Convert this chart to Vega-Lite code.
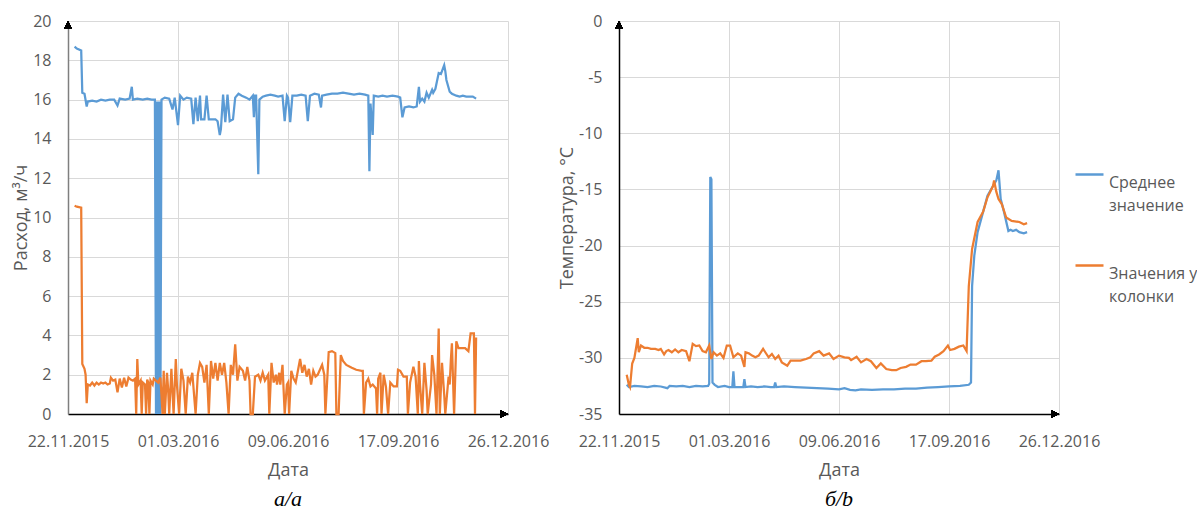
{
  "$schema": "https://vega.github.io/schema/vega-lite/v6.json",
  "padding": {"left": 12, "top": 13, "right": 0, "bottom": 0},
  "background": "white",
  "config": {
    "view": {"stroke": null},
    "font": "Open Sans",
    "concat": {"spacing": 9},
    "style": {"guide-label": {"lineHeight": 23}},
    "axis": {
      "labelFont": "Open Sans", "labelFontSize": 16, "labelColor": "#595959",
      "titleFont": "Open Sans", "titleFontSize": 18, "titleColor": "#595959", "titleFontWeight": "normal",
      "gridColor": "#d9d9d9", "gridWidth": 1, "ticks": false, "domainColor": "#000000", "domainWidth": 1.5, "labelOverlap": false
    }
  },
  "datasets": {
    "flow": [
      {"date": "2015-11-28", "series": "Среднее значение", "value": 18.7},
      {"date": "2015-11-30", "series": "Среднее значение", "value": 18.6},
      {"date": "2015-12-04", "series": "Среднее значение", "value": 18.5},
      {"date": "2015-12-05", "series": "Среднее значение", "value": 16.35},
      {"date": "2015-12-07", "series": "Среднее значение", "value": 16.3},
      {"date": "2015-12-09", "series": "Среднее значение", "value": 15.65},
      {"date": "2015-12-10", "series": "Среднее значение", "value": 15.9},
      {"date": "2015-12-14", "series": "Среднее значение", "value": 15.95},
      {"date": "2015-12-18", "series": "Среднее значение", "value": 15.9},
      {"date": "2015-12-22", "series": "Среднее значение", "value": 16.0},
      {"date": "2015-12-26", "series": "Среднее значение", "value": 15.95},
      {"date": "2015-12-30", "series": "Среднее значение", "value": 16.0},
      {"date": "2016-01-03", "series": "Среднее значение", "value": 16.0},
      {"date": "2016-01-06", "series": "Среднее значение", "value": 15.7},
      {"date": "2016-01-08", "series": "Среднее значение", "value": 16.05},
      {"date": "2016-01-13", "series": "Среднее значение", "value": 16.0},
      {"date": "2016-01-17", "series": "Среднее значение", "value": 16.05},
      {"date": "2016-01-19", "series": "Среднее значение", "value": 16.65},
      {"date": "2016-01-20", "series": "Среднее значение", "value": 16.0},
      {"date": "2016-01-24", "series": "Среднее значение", "value": 16.05},
      {"date": "2016-01-29", "series": "Среднее значение", "value": 16.0},
      {"date": "2016-02-02", "series": "Среднее значение", "value": 16.05},
      {"date": "2016-02-06", "series": "Среднее значение", "value": 16.0},
      {"date": "2016-02-09", "series": "Среднее значение", "value": 16.0},
      {"date": "2016-02-10", "series": "Среднее значение", "value": 0},
      {"date": "2016-02-11", "series": "Среднее значение", "value": 15.9},
      {"date": "2016-02-12", "series": "Среднее значение", "value": 0},
      {"date": "2016-02-13", "series": "Среднее значение", "value": 15.9},
      {"date": "2016-02-14", "series": "Среднее значение", "value": 0},
      {"date": "2016-02-15", "series": "Среднее значение", "value": 16.0},
      {"date": "2016-02-18", "series": "Среднее значение", "value": 16.1},
      {"date": "2016-02-22", "series": "Среднее значение", "value": 16.05},
      {"date": "2016-02-25", "series": "Среднее значение", "value": 15.5},
      {"date": "2016-02-27", "series": "Среднее значение", "value": 16.1},
      {"date": "2016-03-01", "series": "Среднее значение", "value": 14.7},
      {"date": "2016-03-03", "series": "Среднее значение", "value": 16.2},
      {"date": "2016-03-06", "series": "Среднее значение", "value": 16.0},
      {"date": "2016-03-09", "series": "Среднее значение", "value": 16.1},
      {"date": "2016-03-13", "series": "Среднее значение", "value": 16.05},
      {"date": "2016-03-15", "series": "Среднее значение", "value": 14.75},
      {"date": "2016-03-17", "series": "Среднее значение", "value": 16.1},
      {"date": "2016-03-19", "series": "Среднее значение", "value": 14.9},
      {"date": "2016-03-21", "series": "Среднее значение", "value": 16.2},
      {"date": "2016-03-22", "series": "Среднее значение", "value": 15.0},
      {"date": "2016-03-25", "series": "Среднее значение", "value": 15.0},
      {"date": "2016-03-27", "series": "Среднее значение", "value": 16.2},
      {"date": "2016-03-29", "series": "Среднее значение", "value": 15.0},
      {"date": "2016-04-01", "series": "Среднее значение", "value": 15.0},
      {"date": "2016-04-04", "series": "Среднее значение", "value": 15.0},
      {"date": "2016-04-06", "series": "Среднее значение", "value": 14.9},
      {"date": "2016-04-08", "series": "Среднее значение", "value": 14.2},
      {"date": "2016-04-09", "series": "Среднее значение", "value": 14.5},
      {"date": "2016-04-11", "series": "Среднее значение", "value": 16.25},
      {"date": "2016-04-13", "series": "Среднее значение", "value": 14.85},
      {"date": "2016-04-15", "series": "Среднее значение", "value": 16.25},
      {"date": "2016-04-17", "series": "Среднее значение", "value": 14.9},
      {"date": "2016-04-20", "series": "Среднее значение", "value": 15.0},
      {"date": "2016-04-22", "series": "Среднее значение", "value": 16.1},
      {"date": "2016-04-25", "series": "Среднее значение", "value": 16.3},
      {"date": "2016-04-28", "series": "Среднее значение", "value": 16.2},
      {"date": "2016-05-02", "series": "Среднее значение", "value": 16.1},
      {"date": "2016-05-05", "series": "Среднее значение", "value": 16.0},
      {"date": "2016-05-08", "series": "Среднее значение", "value": 16.2},
      {"date": "2016-05-09", "series": "Среднее значение", "value": 15.1},
      {"date": "2016-05-10", "series": "Среднее значение", "value": 16.2},
      {"date": "2016-05-11", "series": "Среднее значение", "value": 16.2},
      {"date": "2016-05-13", "series": "Среднее значение", "value": 12.2},
      {"date": "2016-05-14", "series": "Среднее значение", "value": 16.0},
      {"date": "2016-05-17", "series": "Среднее значение", "value": 16.15},
      {"date": "2016-05-20", "series": "Среднее значение", "value": 16.2},
      {"date": "2016-05-24", "series": "Среднее значение", "value": 16.25},
      {"date": "2016-05-28", "series": "Среднее значение", "value": 16.2},
      {"date": "2016-05-31", "series": "Среднее значение", "value": 16.15},
      {"date": "2016-06-04", "series": "Среднее значение", "value": 16.2},
      {"date": "2016-06-06", "series": "Среднее значение", "value": 14.9},
      {"date": "2016-06-08", "series": "Среднее значение", "value": 16.2},
      {"date": "2016-06-09", "series": "Среднее значение", "value": 16.1},
      {"date": "2016-06-11", "series": "Среднее значение", "value": 14.85},
      {"date": "2016-06-13", "series": "Среднее значение", "value": 16.2},
      {"date": "2016-06-17", "series": "Среднее значение", "value": 16.2},
      {"date": "2016-06-21", "series": "Среднее значение", "value": 16.25},
      {"date": "2016-06-25", "series": "Среднее значение", "value": 16.2},
      {"date": "2016-06-27", "series": "Среднее значение", "value": 14.9},
      {"date": "2016-06-29", "series": "Среднее значение", "value": 16.2},
      {"date": "2016-07-03", "series": "Среднее значение", "value": 16.3},
      {"date": "2016-07-07", "series": "Среднее значение", "value": 16.25},
      {"date": "2016-07-09", "series": "Среднее значение", "value": 15.6},
      {"date": "2016-07-10", "series": "Среднее значение", "value": 16.2},
      {"date": "2016-07-14", "series": "Среднее значение", "value": 16.25},
      {"date": "2016-07-19", "series": "Среднее значение", "value": 16.3},
      {"date": "2016-07-24", "series": "Среднее значение", "value": 16.3},
      {"date": "2016-07-29", "series": "Среднее значение", "value": 16.35},
      {"date": "2016-08-03", "series": "Среднее значение", "value": 16.3},
      {"date": "2016-08-08", "series": "Среднее значение", "value": 16.25},
      {"date": "2016-08-13", "series": "Среднее значение", "value": 16.3},
      {"date": "2016-08-18", "series": "Среднее значение", "value": 16.25},
      {"date": "2016-08-21", "series": "Среднее значение", "value": 16.2},
      {"date": "2016-08-22", "series": "Среднее значение", "value": 12.35},
      {"date": "2016-08-23", "series": "Среднее значение", "value": 15.8},
      {"date": "2016-08-25", "series": "Среднее значение", "value": 14.2},
      {"date": "2016-08-26", "series": "Среднее значение", "value": 16.2},
      {"date": "2016-08-30", "series": "Среднее значение", "value": 16.15},
      {"date": "2016-09-03", "series": "Среднее значение", "value": 16.2},
      {"date": "2016-09-07", "series": "Среднее значение", "value": 16.15},
      {"date": "2016-09-12", "series": "Среднее значение", "value": 16.2},
      {"date": "2016-09-17", "series": "Среднее значение", "value": 16.15},
      {"date": "2016-09-19", "series": "Среднее значение", "value": 16.1},
      {"date": "2016-09-21", "series": "Среднее значение", "value": 15.1},
      {"date": "2016-09-23", "series": "Среднее значение", "value": 15.6},
      {"date": "2016-09-27", "series": "Среднее значение", "value": 15.65},
      {"date": "2016-10-01", "series": "Среднее значение", "value": 15.6},
      {"date": "2016-10-04", "series": "Среднее значение", "value": 15.65},
      {"date": "2016-10-06", "series": "Среднее значение", "value": 16.65},
      {"date": "2016-10-07", "series": "Среднее значение", "value": 15.9},
      {"date": "2016-10-09", "series": "Среднее значение", "value": 16.05},
      {"date": "2016-10-11", "series": "Среднее значение", "value": 15.9},
      {"date": "2016-10-13", "series": "Среднее значение", "value": 16.35},
      {"date": "2016-10-15", "series": "Среднее значение", "value": 16.1},
      {"date": "2016-10-18", "series": "Среднее значение", "value": 16.5},
      {"date": "2016-10-19", "series": "Среднее значение", "value": 16.35},
      {"date": "2016-10-21", "series": "Среднее значение", "value": 16.55},
      {"date": "2016-10-24", "series": "Среднее значение", "value": 17.35},
      {"date": "2016-10-26", "series": "Среднее значение", "value": 17.3},
      {"date": "2016-10-28", "series": "Среднее значение", "value": 17.6},
      {"date": "2016-10-29", "series": "Среднее значение", "value": 17.75},
      {"date": "2016-10-30", "series": "Среднее значение", "value": 17.45},
      {"date": "2016-10-31", "series": "Среднее значение", "value": 17.0},
      {"date": "2016-11-03", "series": "Среднее значение", "value": 16.4},
      {"date": "2016-11-05", "series": "Среднее значение", "value": 16.3},
      {"date": "2016-11-09", "series": "Среднее значение", "value": 16.2},
      {"date": "2016-11-12", "series": "Среднее значение", "value": 16.15},
      {"date": "2016-11-15", "series": "Среднее значение", "value": 16.2},
      {"date": "2016-11-18", "series": "Среднее значение", "value": 16.15},
      {"date": "2016-11-21", "series": "Среднее значение", "value": 16.15},
      {"date": "2016-11-24", "series": "Среднее значение", "value": 16.15},
      {"date": "2016-11-27", "series": "Среднее значение", "value": 16.05},
      {"date": "2015-11-28", "series": "Значения у колонки", "value": 10.6},
      {"date": "2015-11-30", "series": "Значения у колонки", "value": 10.55},
      {"date": "2015-12-04", "series": "Значения у колонки", "value": 10.5},
      {"date": "2015-12-05", "series": "Значения у колонки", "value": 2.55},
      {"date": "2015-12-07", "series": "Значения у колонки", "value": 2.3},
      {"date": "2015-12-08", "series": "Значения у колонки", "value": 2.0},
      {"date": "2015-12-09", "series": "Значения у колонки", "value": 0.55},
      {"date": "2015-12-10", "series": "Значения у колонки", "value": 1.5},
      {"date": "2015-12-12", "series": "Значения у колонки", "value": 1.45},
      {"date": "2015-12-14", "series": "Значения у колонки", "value": 1.6},
      {"date": "2015-12-16", "series": "Значения у колонки", "value": 1.45},
      {"date": "2015-12-18", "series": "Значения у колонки", "value": 1.6},
      {"date": "2015-12-20", "series": "Значения у колонки", "value": 1.5},
      {"date": "2015-12-22", "series": "Значения у колонки", "value": 1.6},
      {"date": "2015-12-24", "series": "Значения у колонки", "value": 1.55},
      {"date": "2015-12-26", "series": "Значения у колонки", "value": 1.6},
      {"date": "2015-12-28", "series": "Значения у колонки", "value": 1.5},
      {"date": "2015-12-30", "series": "Значения у колонки", "value": 1.55},
      {"date": "2015-12-31", "series": "Значения у колонки", "value": 1.85},
      {"date": "2016-01-02", "series": "Значения у колонки", "value": 1.7},
      {"date": "2016-01-04", "series": "Значения у колонки", "value": 1.75},
      {"date": "2016-01-06", "series": "Значения у колонки", "value": 1.1},
      {"date": "2016-01-08", "series": "Значения у колонки", "value": 1.8},
      {"date": "2016-01-10", "series": "Значения у колонки", "value": 1.35},
      {"date": "2016-01-12", "series": "Значения у колонки", "value": 1.85},
      {"date": "2016-01-14", "series": "Значения у колонки", "value": 1.4},
      {"date": "2016-01-16", "series": "Значения у колонки", "value": 1.85},
      {"date": "2016-01-18", "series": "Значения у колонки", "value": 1.75},
      {"date": "2016-01-20", "series": "Значения у колонки", "value": 1.7},
      {"date": "2016-01-22", "series": "Значения у колонки", "value": 1.8},
      {"date": "2016-01-23", "series": "Значения у колонки", "value": 0},
      {"date": "2016-01-24", "series": "Значения у колонки", "value": 2.8},
      {"date": "2016-01-25", "series": "Значения у колонки", "value": 1.5},
      {"date": "2016-01-27", "series": "Значения у колонки", "value": 1.7},
      {"date": "2016-01-28", "series": "Значения у колонки", "value": 0},
      {"date": "2016-01-29", "series": "Значения у колонки", "value": 1.6},
      {"date": "2016-01-31", "series": "Значения у колонки", "value": 1.5},
      {"date": "2016-02-01", "series": "Значения у колонки", "value": 0},
      {"date": "2016-02-02", "series": "Значения у колонки", "value": 1.75},
      {"date": "2016-02-03", "series": "Значения у колонки", "value": 1.6},
      {"date": "2016-02-04", "series": "Значения у колонки", "value": 0},
      {"date": "2016-02-05", "series": "Значения у колонки", "value": 1.7},
      {"date": "2016-02-07", "series": "Значения у колонки", "value": 1.5},
      {"date": "2016-02-08", "series": "Значения у колонки", "value": 1.8},
      {"date": "2016-02-10", "series": "Значения у колонки", "value": 1.7},
      {"date": "2016-02-12", "series": "Значения у колонки", "value": 1.6},
      {"date": "2016-02-14", "series": "Значения у колонки", "value": 1.85},
      {"date": "2016-02-16", "series": "Значения у колонки", "value": 0},
      {"date": "2016-02-17", "series": "Значения у колонки", "value": 2.2},
      {"date": "2016-02-18", "series": "Значения у колонки", "value": 0},
      {"date": "2016-02-20", "series": "Значения у колонки", "value": 2.1},
      {"date": "2016-02-21", "series": "Значения у колонки", "value": 1.3},
      {"date": "2016-02-22", "series": "Значения у колонки", "value": 0},
      {"date": "2016-02-24", "series": "Значения у колонки", "value": 2.3},
      {"date": "2016-02-26", "series": "Значения у колонки", "value": 0},
      {"date": "2016-02-28", "series": "Значения у колонки", "value": 2.8},
      {"date": "2016-02-29", "series": "Значения у колонки", "value": 1.5},
      {"date": "2016-03-02", "series": "Значения у колонки", "value": 0},
      {"date": "2016-03-04", "series": "Значения у колонки", "value": 2.3},
      {"date": "2016-03-06", "series": "Значения у колонки", "value": 1.7},
      {"date": "2016-03-08", "series": "Значения у колонки", "value": 0},
      {"date": "2016-03-10", "series": "Значения у колонки", "value": 1.9},
      {"date": "2016-03-12", "series": "Значения у колонки", "value": 1.6},
      {"date": "2016-03-14", "series": "Значения у колонки", "value": 2.1},
      {"date": "2016-03-17", "series": "Значения у колонки", "value": 0},
      {"date": "2016-03-19", "series": "Значения у колонки", "value": 2.0},
      {"date": "2016-03-21", "series": "Значения у колонки", "value": 2.6},
      {"date": "2016-03-23", "series": "Значения у колонки", "value": 2.4},
      {"date": "2016-03-25", "series": "Значения у колонки", "value": 1.6},
      {"date": "2016-03-27", "series": "Значения у колонки", "value": 2.5},
      {"date": "2016-03-29", "series": "Значения у колонки", "value": 0},
      {"date": "2016-03-31", "series": "Значения у колонки", "value": 2.7},
      {"date": "2016-04-02", "series": "Значения у колонки", "value": 1.8},
      {"date": "2016-04-04", "series": "Значения у колонки", "value": 2.6},
      {"date": "2016-04-06", "series": "Значения у колонки", "value": 1.7},
      {"date": "2016-04-08", "series": "Значения у колонки", "value": 2.6},
      {"date": "2016-04-10", "series": "Значения у колонки", "value": 2.0},
      {"date": "2016-04-12", "series": "Значения у колонки", "value": 2.6},
      {"date": "2016-04-14", "series": "Значения у колонки", "value": 1.6},
      {"date": "2016-04-16", "series": "Значения у колонки", "value": 0},
      {"date": "2016-04-18", "series": "Значения у колонки", "value": 2.5},
      {"date": "2016-04-20", "series": "Значения у колонки", "value": 2.0},
      {"date": "2016-04-22", "series": "Значения у колонки", "value": 3.55},
      {"date": "2016-04-24", "series": "Значения у колонки", "value": 1.7},
      {"date": "2016-04-26", "series": "Значения у колонки", "value": 2.4},
      {"date": "2016-04-29", "series": "Значения у колонки", "value": 2.2},
      {"date": "2016-05-01", "series": "Значения у колонки", "value": 1.7},
      {"date": "2016-05-03", "series": "Значения у колонки", "value": 2.4},
      {"date": "2016-05-05", "series": "Значения у колонки", "value": 1.7},
      {"date": "2016-05-06", "series": "Значения у колонки", "value": 0},
      {"date": "2016-05-08", "series": "Значения у колонки", "value": 0},
      {"date": "2016-05-10", "series": "Значения у колонки", "value": 1.9},
      {"date": "2016-05-13", "series": "Значения у колонки", "value": 2.0},
      {"date": "2016-05-15", "series": "Значения у колонки", "value": 1.7},
      {"date": "2016-05-17", "series": "Значения у колонки", "value": 2.1},
      {"date": "2016-05-19", "series": "Значения у колонки", "value": 1.7},
      {"date": "2016-05-22", "series": "Значения у колонки", "value": 2.0},
      {"date": "2016-05-23", "series": "Значения у колонки", "value": 0},
      {"date": "2016-05-25", "series": "Значения у колонки", "value": 2.6},
      {"date": "2016-05-27", "series": "Значения у колонки", "value": 1.6},
      {"date": "2016-05-29", "series": "Значения у колонки", "value": 2.0},
      {"date": "2016-05-30", "series": "Значения у колонки", "value": 1.5},
      {"date": "2016-06-01", "series": "Значения у колонки", "value": 2.1},
      {"date": "2016-06-02", "series": "Значения у колонки", "value": 1.5},
      {"date": "2016-06-04", "series": "Значения у колонки", "value": 2.5},
      {"date": "2016-06-06", "series": "Значения у колонки", "value": 0},
      {"date": "2016-06-08", "series": "Значения у колонки", "value": 1.5},
      {"date": "2016-06-09", "series": "Значения у колонки", "value": 1.6},
      {"date": "2016-06-10", "series": "Значения у колонки", "value": 0},
      {"date": "2016-06-12", "series": "Значения у колонки", "value": 2.2},
      {"date": "2016-06-14", "series": "Значения у колонки", "value": 1.8},
      {"date": "2016-06-16", "series": "Значения у колонки", "value": 1.6},
      {"date": "2016-06-20", "series": "Значения у колонки", "value": 2.8},
      {"date": "2016-06-22", "series": "Значения у колонки", "value": 2.1},
      {"date": "2016-06-24", "series": "Значения у колонки", "value": 2.5},
      {"date": "2016-06-26", "series": "Значения у колонки", "value": 1.9},
      {"date": "2016-06-28", "series": "Значения у колонки", "value": 2.3},
      {"date": "2016-06-30", "series": "Значения у колонки", "value": 1.5},
      {"date": "2016-07-02", "series": "Значения у колонки", "value": 2.2},
      {"date": "2016-07-04", "series": "Значения у колонки", "value": 1.9},
      {"date": "2016-07-06", "series": "Значения у колонки", "value": 2.0},
      {"date": "2016-07-10", "series": "Значения у колонки", "value": 2.5},
      {"date": "2016-07-12", "series": "Значения у колонки", "value": 2.0},
      {"date": "2016-07-13", "series": "Значения у колонки", "value": 0},
      {"date": "2016-07-16", "series": "Значения у колонки", "value": 3.15},
      {"date": "2016-07-19", "series": "Значения у колонки", "value": 3.2},
      {"date": "2016-07-22", "series": "Значения у колонки", "value": 3.1},
      {"date": "2016-07-23", "series": "Значения у колонки", "value": 0},
      {"date": "2016-07-25", "series": "Значения у колонки", "value": 0},
      {"date": "2016-07-27", "series": "Значения у колонки", "value": 3.0},
      {"date": "2016-07-29", "series": "Значения у колонки", "value": 2.7},
      {"date": "2016-08-01", "series": "Значения у колонки", "value": 2.5},
      {"date": "2016-08-06", "series": "Значения у колонки", "value": 2.35},
      {"date": "2016-08-10", "series": "Значения у колонки", "value": 2.25},
      {"date": "2016-08-15", "series": "Значения у колонки", "value": 2.2},
      {"date": "2016-08-16", "series": "Значения у колонки", "value": 2.2},
      {"date": "2016-08-17", "series": "Значения у колонки", "value": 0},
      {"date": "2016-08-19", "series": "Значения у колонки", "value": 1.6},
      {"date": "2016-08-21", "series": "Значения у колонки", "value": 1.8},
      {"date": "2016-08-23", "series": "Значения у колонки", "value": 1.4},
      {"date": "2016-08-25", "series": "Значения у колонки", "value": 1.5},
      {"date": "2016-08-28", "series": "Значения у колонки", "value": 1.3},
      {"date": "2016-08-29", "series": "Значения у колонки", "value": 0},
      {"date": "2016-08-30", "series": "Значения у колонки", "value": 1.8},
      {"date": "2016-09-01", "series": "Значения у колонки", "value": 2.1},
      {"date": "2016-09-02", "series": "Значения у колонки", "value": 0},
      {"date": "2016-09-04", "series": "Значения у колонки", "value": 2.0},
      {"date": "2016-09-06", "series": "Значения у колонки", "value": 1.4},
      {"date": "2016-09-08", "series": "Значения у колонки", "value": 0},
      {"date": "2016-09-10", "series": "Значения у колонки", "value": 1.6},
      {"date": "2016-09-13", "series": "Значения у колонки", "value": 1.4},
      {"date": "2016-09-16", "series": "Значения у колонки", "value": 1.4},
      {"date": "2016-09-17", "series": "Значения у колонки", "value": 2.25},
      {"date": "2016-09-19", "series": "Значения у колонки", "value": 2.2},
      {"date": "2016-09-22", "series": "Значения у колонки", "value": 1.9},
      {"date": "2016-09-25", "series": "Значения у колонки", "value": 1.9},
      {"date": "2016-09-26", "series": "Значения у колонки", "value": 0},
      {"date": "2016-09-28", "series": "Значения у колонки", "value": 1.6},
      {"date": "2016-10-01", "series": "Значения у колонки", "value": 2.4},
      {"date": "2016-10-03", "series": "Значения у колонки", "value": 1.9},
      {"date": "2016-10-05", "series": "Значения у колонки", "value": 0},
      {"date": "2016-10-06", "series": "Значения у колонки", "value": 2.7},
      {"date": "2016-10-07", "series": "Значения у колонки", "value": 1.5},
      {"date": "2016-10-09", "series": "Значения у колонки", "value": 0},
      {"date": "2016-10-11", "series": "Значения у колонки", "value": 2.6},
      {"date": "2016-10-13", "series": "Значения у колонки", "value": 1.2},
      {"date": "2016-10-14", "series": "Значения у колонки", "value": 0},
      {"date": "2016-10-17", "series": "Значения у колонки", "value": 1.5},
      {"date": "2016-10-18", "series": "Значения у колонки", "value": 3.0},
      {"date": "2016-10-20", "series": "Значения у колонки", "value": 2.0},
      {"date": "2016-10-22", "series": "Значения у колонки", "value": 0},
      {"date": "2016-10-24", "series": "Значения у колонки", "value": 4.35},
      {"date": "2016-10-25", "series": "Значения у колонки", "value": 0},
      {"date": "2016-10-27", "series": "Значения у колонки", "value": 2.6},
      {"date": "2016-10-29", "series": "Значения у колонки", "value": 1.0},
      {"date": "2016-10-30", "series": "Значения у колонки", "value": 0},
      {"date": "2016-11-02", "series": "Значения у колонки", "value": 1.9},
      {"date": "2016-11-03", "series": "Значения у колонки", "value": 1.5},
      {"date": "2016-11-04", "series": "Значения у колонки", "value": 2.7},
      {"date": "2016-11-05", "series": "Значения у колонки", "value": 3.6},
      {"date": "2016-11-07", "series": "Значения у колонки", "value": 0},
      {"date": "2016-11-09", "series": "Значения у колонки", "value": 3.7},
      {"date": "2016-11-11", "series": "Значения у колонки", "value": 3.35},
      {"date": "2016-11-14", "series": "Значения у колонки", "value": 3.35},
      {"date": "2016-11-17", "series": "Значения у колонки", "value": 3.35},
      {"date": "2016-11-20", "series": "Значения у колонки", "value": 3.2},
      {"date": "2016-11-22", "series": "Значения у колонки", "value": 4.1},
      {"date": "2016-11-25", "series": "Значения у колонки", "value": 4.1},
      {"date": "2016-11-26", "series": "Значения у колонки", "value": 0},
      {"date": "2016-11-27", "series": "Значения у колонки", "value": 3.9}
    ],
    "temp": [
      {"date": "2015-11-29", "series": "Среднее значение", "value": -32.4},
      {"date": "2015-12-01", "series": "Среднее значение", "value": -32.6},
      {"date": "2015-12-06", "series": "Среднее значение", "value": -32.5},
      {"date": "2015-12-12", "series": "Среднее значение", "value": -32.55},
      {"date": "2015-12-18", "series": "Среднее значение", "value": -32.6},
      {"date": "2015-12-24", "series": "Среднее значение", "value": -32.5},
      {"date": "2015-12-30", "series": "Среднее значение", "value": -32.55},
      {"date": "2016-01-05", "series": "Среднее значение", "value": -32.7},
      {"date": "2016-01-07", "series": "Среднее значение", "value": -32.5},
      {"date": "2016-01-13", "series": "Среднее значение", "value": -32.55},
      {"date": "2016-01-19", "series": "Среднее значение", "value": -32.5},
      {"date": "2016-01-25", "series": "Среднее значение", "value": -32.6},
      {"date": "2016-01-31", "series": "Среднее значение", "value": -32.5},
      {"date": "2016-02-06", "series": "Среднее значение", "value": -32.55},
      {"date": "2016-02-11", "series": "Среднее значение", "value": -32.5},
      {"date": "2016-02-12", "series": "Среднее значение", "value": -32.3},
      {"date": "2016-02-13", "series": "Среднее значение", "value": -13.9},
      {"date": "2016-02-14", "series": "Среднее значение", "value": -14.1},
      {"date": "2016-02-15", "series": "Среднее значение", "value": -32.2},
      {"date": "2016-02-17", "series": "Среднее значение", "value": -32.4},
      {"date": "2016-02-20", "series": "Среднее значение", "value": -32.6},
      {"date": "2016-02-26", "series": "Среднее значение", "value": -32.5},
      {"date": "2016-03-01", "series": "Среднее значение", "value": -32.6},
      {"date": "2016-03-04", "series": "Среднее значение", "value": -32.6},
      {"date": "2016-03-05", "series": "Среднее значение", "value": -31.2},
      {"date": "2016-03-06", "series": "Среднее значение", "value": -32.6},
      {"date": "2016-03-11", "series": "Среднее значение", "value": -32.6},
      {"date": "2016-03-14", "series": "Среднее значение", "value": -32.6},
      {"date": "2016-03-15", "series": "Среднее значение", "value": -31.9},
      {"date": "2016-03-16", "series": "Среднее значение", "value": -32.6},
      {"date": "2016-03-21", "series": "Среднее значение", "value": -32.55},
      {"date": "2016-03-27", "series": "Среднее значение", "value": -32.6},
      {"date": "2016-04-02", "series": "Среднее значение", "value": -32.55},
      {"date": "2016-04-08", "series": "Среднее значение", "value": -32.6},
      {"date": "2016-04-11", "series": "Среднее значение", "value": -32.6},
      {"date": "2016-04-12", "series": "Среднее значение", "value": -32.2},
      {"date": "2016-04-13", "series": "Среднее значение", "value": -32.6},
      {"date": "2016-04-20", "series": "Среднее значение", "value": -32.55},
      {"date": "2016-04-30", "series": "Среднее значение", "value": -32.6},
      {"date": "2016-05-10", "series": "Среднее значение", "value": -32.65},
      {"date": "2016-05-20", "series": "Среднее значение", "value": -32.7},
      {"date": "2016-05-30", "series": "Среднее значение", "value": -32.75},
      {"date": "2016-06-09", "series": "Среднее значение", "value": -32.8},
      {"date": "2016-06-14", "series": "Среднее значение", "value": -32.7},
      {"date": "2016-06-19", "series": "Среднее значение", "value": -32.85},
      {"date": "2016-06-24", "series": "Среднее значение", "value": -32.9},
      {"date": "2016-06-29", "series": "Среднее значение", "value": -32.8},
      {"date": "2016-07-09", "series": "Среднее значение", "value": -32.85},
      {"date": "2016-07-19", "series": "Среднее значение", "value": -32.8},
      {"date": "2016-07-29", "series": "Среднее значение", "value": -32.8},
      {"date": "2016-08-08", "series": "Среднее значение", "value": -32.75},
      {"date": "2016-08-18", "series": "Среднее значение", "value": -32.75},
      {"date": "2016-08-28", "series": "Среднее значение", "value": -32.65},
      {"date": "2016-09-07", "series": "Среднее значение", "value": -32.6},
      {"date": "2016-09-17", "series": "Среднее значение", "value": -32.55},
      {"date": "2016-09-27", "series": "Среднее значение", "value": -32.5},
      {"date": "2016-10-05", "series": "Среднее значение", "value": -32.4},
      {"date": "2016-10-07", "series": "Среднее значение", "value": -32.2},
      {"date": "2016-10-08", "series": "Среднее значение", "value": -23.6},
      {"date": "2016-10-10", "series": "Среднее значение", "value": -20.9},
      {"date": "2016-10-13", "series": "Среднее значение", "value": -18.8},
      {"date": "2016-10-18", "series": "Среднее значение", "value": -17.0},
      {"date": "2016-10-22", "series": "Среднее значение", "value": -15.55},
      {"date": "2016-10-27", "series": "Среднее значение", "value": -14.7},
      {"date": "2016-10-30", "series": "Среднее значение", "value": -14.2},
      {"date": "2016-11-01", "series": "Среднее значение", "value": -13.3},
      {"date": "2016-11-03", "series": "Среднее значение", "value": -15.85},
      {"date": "2016-11-06", "series": "Среднее значение", "value": -17.0},
      {"date": "2016-11-10", "series": "Среднее значение", "value": -18.7},
      {"date": "2016-11-12", "series": "Среднее значение", "value": -18.6},
      {"date": "2016-11-14", "series": "Среднее значение", "value": -18.7},
      {"date": "2016-11-17", "series": "Среднее значение", "value": -18.6},
      {"date": "2016-11-20", "series": "Среднее значение", "value": -18.8},
      {"date": "2016-11-24", "series": "Среднее значение", "value": -18.9},
      {"date": "2016-11-27", "series": "Среднее значение", "value": -18.8},
      {"date": "2015-11-29", "series": "Значения у колонки", "value": -31.5},
      {"date": "2015-12-01", "series": "Значения у колонки", "value": -32.4},
      {"date": "2015-12-02", "series": "Значения у колонки", "value": -32.6},
      {"date": "2015-12-04", "series": "Значения у колонки", "value": -30.5},
      {"date": "2015-12-06", "series": "Значения у колонки", "value": -30.0},
      {"date": "2015-12-09", "series": "Значения у колонки", "value": -28.25},
      {"date": "2015-12-10", "series": "Значения у колонки", "value": -29.5},
      {"date": "2015-12-12", "series": "Значения у колонки", "value": -28.9},
      {"date": "2015-12-15", "series": "Значения у колонки", "value": -29.1},
      {"date": "2015-12-18", "series": "Значения у колонки", "value": -29.1},
      {"date": "2015-12-21", "series": "Значения у колонки", "value": -29.2},
      {"date": "2015-12-25", "series": "Значения у колонки", "value": -29.2},
      {"date": "2015-12-28", "series": "Значения у колонки", "value": -29.3},
      {"date": "2015-12-30", "series": "Значения у колонки", "value": -29.2},
      {"date": "2016-01-02", "series": "Значения у колонки", "value": -29.7},
      {"date": "2016-01-04", "series": "Значения у колонки", "value": -29.4},
      {"date": "2016-01-06", "series": "Значения у колонки", "value": -29.3},
      {"date": "2016-01-09", "series": "Значения у колонки", "value": -29.5},
      {"date": "2016-01-12", "series": "Значения у колонки", "value": -29.25},
      {"date": "2016-01-15", "series": "Значения у колонки", "value": -29.5},
      {"date": "2016-01-18", "series": "Значения у колонки", "value": -29.3},
      {"date": "2016-01-22", "series": "Значения у колонки", "value": -29.4},
      {"date": "2016-01-25", "series": "Значения у колонки", "value": -30.3},
      {"date": "2016-01-28", "series": "Значения у колонки", "value": -28.75},
      {"date": "2016-01-31", "series": "Значения у колонки", "value": -28.95},
      {"date": "2016-02-03", "series": "Значения у колонки", "value": -28.9},
      {"date": "2016-02-06", "series": "Значения у колонки", "value": -29.4},
      {"date": "2016-02-09", "series": "Значения у колонки", "value": -29.5},
      {"date": "2016-02-12", "series": "Значения у колонки", "value": -28.9},
      {"date": "2016-02-14", "series": "Значения у колонки", "value": -30.1},
      {"date": "2016-02-16", "series": "Значения у колонки", "value": -29.5},
      {"date": "2016-02-19", "series": "Значения у колонки", "value": -29.8},
      {"date": "2016-02-22", "series": "Значения у колонки", "value": -29.6},
      {"date": "2016-02-25", "series": "Значения у колонки", "value": -30.0},
      {"date": "2016-02-28", "series": "Значения у колонки", "value": -28.9},
      {"date": "2016-03-02", "series": "Значения у колонки", "value": -28.9},
      {"date": "2016-03-05", "series": "Значения у колонки", "value": -29.95},
      {"date": "2016-03-09", "series": "Значения у колонки", "value": -29.6},
      {"date": "2016-03-12", "series": "Значения у колонки", "value": -29.8},
      {"date": "2016-03-15", "series": "Значения у колонки", "value": -30.8},
      {"date": "2016-03-16", "series": "Значения у колонки", "value": -29.5},
      {"date": "2016-03-19", "series": "Значения у колонки", "value": -29.6},
      {"date": "2016-03-22", "series": "Значения у колонки", "value": -29.8},
      {"date": "2016-03-25", "series": "Значения у колонки", "value": -29.95},
      {"date": "2016-03-28", "series": "Значения у колонки", "value": -29.8},
      {"date": "2016-04-01", "series": "Значения у колонки", "value": -29.2},
      {"date": "2016-04-03", "series": "Значения у колонки", "value": -29.5},
      {"date": "2016-04-06", "series": "Значения у колонки", "value": -29.95},
      {"date": "2016-04-09", "series": "Значения у колонки", "value": -29.65},
      {"date": "2016-04-12", "series": "Значения у колонки", "value": -30.1},
      {"date": "2016-04-15", "series": "Значения у колонки", "value": -29.8},
      {"date": "2016-04-18", "series": "Значения у колонки", "value": -30.4},
      {"date": "2016-04-23", "series": "Значения у колонки", "value": -30.7},
      {"date": "2016-04-26", "series": "Значения у колонки", "value": -30.25},
      {"date": "2016-05-01", "series": "Значения у колонки", "value": -30.25},
      {"date": "2016-05-05", "series": "Значения у колонки", "value": -30.25},
      {"date": "2016-05-10", "series": "Значения у колонки", "value": -30.1},
      {"date": "2016-05-14", "series": "Значения у колонки", "value": -29.95},
      {"date": "2016-05-17", "series": "Значения у колонки", "value": -29.6},
      {"date": "2016-05-22", "series": "Значения у колонки", "value": -29.4},
      {"date": "2016-05-26", "series": "Значения у колонки", "value": -29.8},
      {"date": "2016-05-31", "series": "Значения у колонки", "value": -29.6},
      {"date": "2016-06-04", "series": "Значения у колонки", "value": -30.1},
      {"date": "2016-06-09", "series": "Значения у колонки", "value": -29.8},
      {"date": "2016-06-14", "series": "Значения у колонки", "value": -29.95},
      {"date": "2016-06-18", "series": "Значения у колонки", "value": -30.0},
      {"date": "2016-06-20", "series": "Значения у колонки", "value": -30.2},
      {"date": "2016-06-25", "series": "Значения у колонки", "value": -29.9},
      {"date": "2016-06-29", "series": "Значения у колонки", "value": -30.4},
      {"date": "2016-07-04", "series": "Значения у колонки", "value": -30.1},
      {"date": "2016-07-08", "series": "Значения у колонки", "value": -30.3},
      {"date": "2016-07-13", "series": "Значения у колонки", "value": -30.9},
      {"date": "2016-07-17", "series": "Значения у колонки", "value": -30.5},
      {"date": "2016-07-22", "series": "Значения у колонки", "value": -31.0},
      {"date": "2016-07-27", "series": "Значения у колонки", "value": -31.1},
      {"date": "2016-07-31", "series": "Значения у колонки", "value": -31.1},
      {"date": "2016-08-04", "series": "Значения у колонки", "value": -30.9},
      {"date": "2016-08-09", "series": "Значения у колонки", "value": -30.8},
      {"date": "2016-08-13", "series": "Значения у колонки", "value": -30.6},
      {"date": "2016-08-18", "series": "Значения у колонки", "value": -30.6},
      {"date": "2016-08-23", "series": "Значения у колонки", "value": -30.3},
      {"date": "2016-08-27", "series": "Значения у колонки", "value": -30.3},
      {"date": "2016-09-01", "series": "Значения у колонки", "value": -30.25},
      {"date": "2016-09-04", "series": "Значения у колонки", "value": -29.9},
      {"date": "2016-09-08", "series": "Значения у колонки", "value": -29.7},
      {"date": "2016-09-12", "series": "Значения у колонки", "value": -29.4},
      {"date": "2016-09-16", "series": "Значения у колонки", "value": -28.9},
      {"date": "2016-09-18", "series": "Значения у колонки", "value": -29.3},
      {"date": "2016-09-22", "series": "Значения у колонки", "value": -29.2},
      {"date": "2016-09-26", "series": "Значения у колонки", "value": -29.0},
      {"date": "2016-09-30", "series": "Значения у колонки", "value": -28.9},
      {"date": "2016-10-03", "series": "Значения у колонки", "value": -29.4},
      {"date": "2016-10-05", "series": "Значения у колонки", "value": -23.6},
      {"date": "2016-10-08", "series": "Значения у колонки", "value": -20.3},
      {"date": "2016-10-13", "series": "Значения у колонки", "value": -17.9},
      {"date": "2016-10-18", "series": "Значения у колонки", "value": -17.0},
      {"date": "2016-10-22", "series": "Значения у колонки", "value": -15.7},
      {"date": "2016-10-27", "series": "Значения у колонки", "value": -14.7},
      {"date": "2016-10-28", "series": "Значения у колонки", "value": -14.2},
      {"date": "2016-10-30", "series": "Значения у колонки", "value": -15.2},
      {"date": "2016-11-01", "series": "Значения у колонки", "value": -15.85},
      {"date": "2016-11-04", "series": "Значения у колонки", "value": -16.3},
      {"date": "2016-11-08", "series": "Значения у колонки", "value": -17.5},
      {"date": "2016-11-13", "series": "Значения у колонки", "value": -17.8},
      {"date": "2016-11-20", "series": "Значения у колонки", "value": -17.9},
      {"date": "2016-11-24", "series": "Значения у колонки", "value": -18.1},
      {"date": "2016-11-27", "series": "Значения у колонки", "value": -18.0}
    ]
  },
  "hconcat": [
    {
      "width": 440,
      "height": 393,
      "data": {"name": "flow"},
      "title": {"text": "а/a", "orient": "bottom", "frame": "group", "anchor": "middle", "font": "Liberation Serif", "fontStyle": "italic", "fontWeight": "normal", "fontSize": 22, "color": "#000000", "offset": 10},
      "layer": [
        {
          "mark": {"type": "line", "strokeWidth": 2.25, "interpolate": "linear"},
          "encoding": {
            "x": {"field": "date", "type": "temporal",
              "scale": {"type": "utc", "nice": false, "domain": [{"year": 2015, "month": 11, "date": 22, "utc": true}, {"year": 2016, "month": 12, "date": 26, "utc": true}]},
              "axis": {"title": "Дата", "values": [{"year": 2015, "month": 11, "date": 22, "utc": true}, {"year": 2016, "month": 3, "date": 1, "utc": true}, {"year": 2016, "month": 6, "date": 9, "utc": true}, {"year": 2016, "month": 9, "date": 17, "utc": true}, {"year": 2016, "month": 12, "date": 26, "utc": true}], "labelExpr": "utcFormat(datum.value, '%d.%m.%Y')", "labelPadding": 19, "titlePadding": 12, "labelFlush": false, "tickCount": 10}},
            "y": {"field": "value", "type": "quantitative",
              "scale": {"domain": [0, 20], "nice": false, "zero": false},
              "axis": {"title": "Расход, м³/ч", "values": [0, 2, 4, 6, 8, 10, 12, 14, 16, 18, 20], "tickCount": 20, "labelPadding": 17, "titlePadding": 2, "domainColor": "#7f7f7f"}},
            "color": {"field": "series", "type": "nominal",
              "scale": {"domain": ["Среднее значение", "Значения у колонки"], "range": ["#5B9BD5", "#ED7D31"]},
              "legend": {"orient": "none", "legendX": 1006, "legendY": 138, "title": null, "symbolType": "stroke", "symbolStrokeWidth": 2.5, "symbolSize": 784, "labelFont": "Open Sans", "labelFontSize": 16, "labelColor": "#595959", "labelOffset": 4, "labelLimit": 200, "rowPadding": 36, "labelBaseline": "top",
                "labelExpr": "datum.label == 'Среднее значение' ? ['Среднее', 'значение'] : ['Значения у', 'колонки']"}},
            "order": {"field": "date", "type": "temporal"}
          }
        },
        {
          "mark": {"type": "point", "shape": "M-1,-0.5L0,0L-1,0.5Z", "filled": true, "color": "#000000", "opacity": 1, "size": 256},
          "encoding": {"x": {"datum": {"year": 2016, "month": 12, "date": 26, "utc": true}, "type": "temporal"}, "y": {"datum": 0}}
        },
        {
          "mark": {"type": "point", "shape": "M-0.5,1L0,0L0.5,1Z", "filled": true, "color": "#000000", "opacity": 1, "size": 256},
          "encoding": {"x": {"datum": {"year": 2015, "month": 11, "date": 22, "utc": true}, "type": "temporal"}, "y": {"datum": 20}}
        }
      ]
    },
    {
      "width": 440,
      "height": 393,
      "data": {"name": "temp"},
      "title": {"text": "б/b", "orient": "bottom", "frame": "group", "anchor": "middle", "font": "Liberation Serif", "fontStyle": "italic", "fontWeight": "normal", "fontSize": 22, "color": "#000000", "offset": 10},
      "layer": [
        {
          "mark": {"type": "line", "strokeWidth": 2.25, "interpolate": "linear"},
          "encoding": {
            "x": {"field": "date", "type": "temporal",
              "scale": {"type": "utc", "nice": false, "domain": [{"year": 2015, "month": 11, "date": 22, "utc": true}, {"year": 2016, "month": 12, "date": 26, "utc": true}]},
              "axis": {"title": "Дата", "values": [{"year": 2015, "month": 11, "date": 22, "utc": true}, {"year": 2016, "month": 3, "date": 1, "utc": true}, {"year": 2016, "month": 6, "date": 9, "utc": true}, {"year": 2016, "month": 9, "date": 17, "utc": true}, {"year": 2016, "month": 12, "date": 26, "utc": true}], "labelExpr": "utcFormat(datum.value, '%d.%m.%Y')", "labelPadding": 19, "titlePadding": 12, "labelFlush": false, "tickCount": 10}},
            "y": {"field": "value", "type": "quantitative",
              "scale": {"domain": [-35, 0], "nice": false, "zero": false},
              "axis": {"title": "Температура, °С", "values": [-35, -30, -25, -20, -15, -10, -5, 0], "tickCount": 20, "labelExpr": "toString(datum.value)", "labelPadding": 17, "titlePadding": 2}},
            "color": {"field": "series", "type": "nominal",
              "scale": {"domain": ["Среднее значение", "Значения у колонки"], "range": ["#5B9BD5", "#ED7D31"]}},
            "order": {"field": "date", "type": "temporal"}
          }
        },
        {
          "mark": {"type": "point", "shape": "M-1,-0.5L0,0L-1,0.5Z", "filled": true, "color": "#000000", "opacity": 1, "size": 256},
          "encoding": {"x": {"datum": {"year": 2016, "month": 12, "date": 26, "utc": true}, "type": "temporal"}, "y": {"datum": -35}}
        },
        {
          "mark": {"type": "point", "shape": "M-0.5,1L0,0L0.5,1Z", "filled": true, "color": "#000000", "opacity": 1, "size": 256},
          "encoding": {"x": {"datum": {"year": 2015, "month": 11, "date": 22, "utc": true}, "type": "temporal"}, "y": {"datum": 0}}
        }
      ]
    }
  ]
}
